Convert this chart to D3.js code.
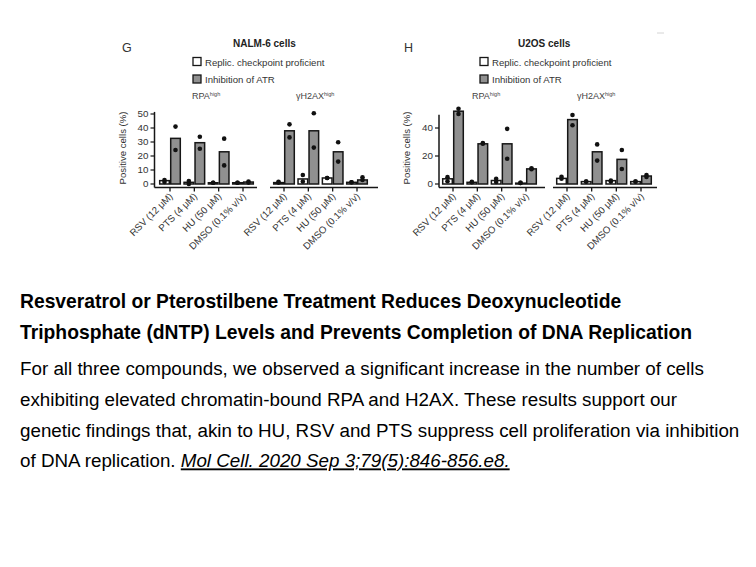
<!DOCTYPE html>
<html lang="en">
<head>
<meta charset="UTF-8">
<title>RSV / PTS replication stress</title>
<script src="https://cdnjs.cloudflare.com/ajax/libs/d3/7.8.5/d3.min.js"></script>
<style>
    body { margin: 0; background: #fff; }
    svg { display: block; font-family: "Liberation Sans", Arial, sans-serif; }
</style>
</head>
<body>
<svg id="chart" width="756" height="567"></svg>
<script>
    // treatments and conditions
    const treatments = ["RSV (12 \u03bcM)", "PTS (4 \u03bcM)", "HU (50 \u03bcM)", "DMSO (0.1% v/v)"];
    const conditions = ["Replic. checkpoint proficient", "Inhibition of ATR"];

    // NALM-6, RPA high
    const nalmRpaProf = [2.4, 1.2, 0.9, 0.9];
    const nalmRpaProfPts = [[2.9, 1.4], [2.1, 0], [0.9, 0.9], [0.9, 0.9]];
    const nalmRpaAtr = [32.6, 29.5, 23, 1.4];
    const nalmRpaAtrPts = [[41, 24.3], [33.8, 25.2], [32.4, 13.3], [1.7, 1]];
    // NALM-6, gH2AX high
    const nalmH2axProf = [1, 3.6, 4.3, 1.2];
    const nalmH2axProfPts = [[1.5, 1], [6.4, 1.7], [4.3, 4.3], [1.2, 1.2]];
    const nalmH2axAtr = [38, 38, 23, 2.9];
    const nalmH2axAtrPts = [[42.6, 33.3], [50.5, 26], [29.8, 16], [4.8, 2.9]];
    // U2OS, RPA high
    const u2osRpaProf = [3.7, 1.2, 2.5, 0.6];
    const u2osRpaProfPts = [[4.9, 2], [1.5, 1.2], [3.7, 1.5], [0.8, 0.8]];
    const u2osRpaAtr = [52, 28.7, 28.7, 10.8];
    const u2osRpaAtrPts = [[53.7, 50], [29.2, 28.7], [39.4, 18], [11.2, 10.6]];
    // U2OS, gH2AX high
    const u2osH2axProf = [4, 1.7, 2.4, 1.7];
    const u2osH2axProfPts = [[5.2, 3.7], [1.7, 1.7], [2.4, 1.7], [1.7, 1.7]];
    const u2osH2axAtr = [46, 23, 17.6, 5.7];
    const u2osH2axAtrPts = [[49.3, 42], [28.3, 16.7], [24.3, 10.7], [6.4, 5]];

    const nalmTicks = [0, 10, 20, 30, 40, 50];
    const u2osTicks = [0, 20, 40];

    const captionTitle = [
        "Resveratrol or Pterostilbene Treatment Reduces Deoxynucleotide",
        "Triphosphate (dNTP) Levels and Prevents Completion of DNA Replication"
    ];
    const captionBody = [
        "For all three compounds, we observed a significant increase in the number of cells",
        "exhibiting elevated chromatin-bound RPA and H2AX. These results support our",
        "genetic findings that, akin to HU, RSV and PTS suppress cell proliferation via inhibition",
        "of DNA replication. "
    ];
    const citation = "Mol Cell. 2020 Sep 3;79(5):846-856.e8.";

    const svg = d3.select("#chart");
    const ink = "#161616";
    const greyFill = "#909090";
    const barW = 11;
    const axisY = 187.5;

    const y = d3.scaleLinear().domain([0, 50]).range([184, 114]);

    function drawPanel(opt) {
        const g = svg.append("g");
        const x = d3.scalePoint().domain(treatments).range(opt.range);

        // bars
        const series = [
            {vals: opt.prof, pts: opt.profPts, fill: "#fff", off: -barW},
            {vals: opt.atr, pts: opt.atrPts, fill: greyFill, off: 0}
        ];
        series.forEach(s => {
            g.selectAll(null).data(treatments).enter().append("rect")
                .attr("x", d => x(d) + s.off + 0.7)
                .attr("width", barW - 1.4)
                .attr("y", (d, i) => y(s.vals[i]))
                .attr("height", (d, i) => y(0) - y(s.vals[i]))
                .attr("fill", s.fill)
                .attr("stroke", ink)
                .attr("stroke-width", 1.5);
            treatments.forEach((t, i) => {
                g.selectAll(null).data(s.pts[i]).enter().append("circle")
                    .attr("cx", x(t) + s.off + barW / 2)
                    .attr("cy", d => y(d))
                    .attr("r", 2.3)
                    .attr("fill", "#111");
            });
        });

        // x axis line + ticks
        g.append("line")
            .attr("x1", opt.axisX[0]).attr("x2", opt.axisX[1])
            .attr("y1", axisY).attr("y2", axisY)
            .attr("stroke", ink).attr("stroke-width", 1.5);
        g.selectAll(null).data(treatments).enter().append("line")
            .attr("x1", d => x(d)).attr("x2", d => x(d))
            .attr("y1", axisY).attr("y2", axisY + 4)
            .attr("stroke", ink).attr("stroke-width", 1.3);
        g.selectAll(null).data(treatments).enter().append("text")
            .attr("transform", d => `translate(${x(d) + 1},${axisY + 7}) rotate(-45)`)
            .attr("text-anchor", "end")
            .attr("dy", "0.35em")
            .attr("font-size", 9.7)
            .attr("fill", "#333")
            .text(d => d);

        // y axis
        if (opt.yTicks) {
            const ax = opt.axisX[0];
            g.append("line")
                .attr("x1", ax).attr("x2", ax)
                .attr("y1", y(opt.yTop)).attr("y2", axisY)
                .attr("stroke", ink).attr("stroke-width", 1.5);
            g.selectAll(null).data(opt.yTicks).enter().append("line")
                .attr("x1", ax - 4).attr("x2", ax)
                .attr("y1", d => y(d)).attr("y2", d => y(d))
                .attr("stroke", ink).attr("stroke-width", 1.2);
            g.selectAll(null).data(opt.yTicks).enter().append("text")
                .attr("x", ax - 6).attr("y", d => y(d))
                .attr("dy", "0.35em")
                .attr("text-anchor", "end")
                .attr("font-size", 9.8)
                .attr("fill", "#333")
                .text(d => d);
            g.append("text")
                .attr("transform", `translate(${ax - 29},${148}) rotate(-90)`)
                .attr("text-anchor", "middle")
                .attr("font-size", 9.6)
                .attr("fill", "#333")
                .text("Positive cells (%)");
        }

        // subtitle with superscript
        const st = g.append("text")
            .attr("x", opt.subX).attr("y", 99)
            .attr("font-size", 9)
            .attr("fill", "#444");
        st.append("tspan").text(opt.marker);
        st.append("tspan").attr("font-size", 5.5).attr("dy", -3.5).text("high");
    }

    function drawHeader(opt) {
        svg.append("text")
            .attr("x", opt.letterX).attr("y", 52)
            .attr("font-size", 12.5)
            .attr("fill", "#333")
            .text(opt.letter);
        svg.append("text")
            .attr("x", opt.titleX).attr("y", 47)
            .attr("font-size", 10)
            .attr("font-weight", "bold")
            .attr("fill", "#222")
            .text(opt.title);
        const lg = svg.append("g");
        conditions.forEach((c, i) => {
            lg.append("rect")
                .attr("x", opt.legendX).attr("y", 57.5 + i * 17.5)
                .attr("width", 8).attr("height", 8)
                .attr("fill", i === 0 ? "#fff" : greyFill)
                .attr("stroke", ink).attr("stroke-width", 1.3);
            lg.append("text")
                .attr("x", opt.legendX + 12).attr("y", 65.5 + i * 17.5)
                .attr("font-size", 9.6)
                .attr("fill", "#333")
                .text(c);
        });
    }

    drawHeader({letter: "G", letterX: 122, title: "NALM-6 cells", titleX: 233, legendX: 193});
    drawHeader({letter: "H", letterX: 404, title: "U2OS cells", titleX: 518, legendX: 480});

    drawPanel({range: [170, 243], axisX: [154.5, 257], prof: nalmRpaProf, profPts: nalmRpaProfPts,
        atr: nalmRpaAtr, atrPts: nalmRpaAtrPts, yTicks: nalmTicks, yTop: 51.5, marker: "RPA", subX: 192});
    drawPanel({range: [284, 357], axisX: [270, 378], prof: nalmH2axProf, profPts: nalmH2axProfPts,
        atr: nalmH2axAtr, atrPts: nalmH2axAtrPts, marker: "\u03b3H2AX", subX: 296});
    drawPanel({range: [453, 526], axisX: [439, 545], prof: u2osRpaProf, profPts: u2osRpaProfPts,
        atr: u2osRpaAtr, atrPts: u2osRpaAtrPts, yTicks: u2osTicks, yTop: 49.5, marker: "RPA", subX: 472});
    drawPanel({range: [567, 641], axisX: [553, 657], prof: u2osH2axProf, profPts: u2osH2axProfPts,
        atr: u2osH2axAtr, atrPts: u2osH2axAtrPts, marker: "\u03b3H2AX", subX: 577});

    // faint scan mark top right
    svg.append("line").attr("x1", 657).attr("x2", 664).attr("y1", 33).attr("y2", 33)
        .attr("stroke", "#d4d4d4").attr("stroke-width", 1);

    // caption
    const cap = svg.append("g").attr("fill", "#000");
    captionTitle.forEach((t, i) => {
        cap.append("text")
            .attr("x", 20).attr("y", 308 + i * 31)
            .attr("font-size", 19.3)
            .attr("font-weight", "bold")
            .text(t);
    });
    captionBody.forEach((t, i) => {
        const tx = cap.append("text")
            .attr("x", 20).attr("y", 375 + i * 30.8)
            .attr("font-size", 18.8)
            .attr("xml:space", "preserve")
            .text(t);
        if (i === captionBody.length - 1) {
            tx.append("tspan")
                .attr("font-style", "italic")
                .attr("text-decoration", "underline")
                .text(citation);
        }
    });
</script>
</body>
</html>
